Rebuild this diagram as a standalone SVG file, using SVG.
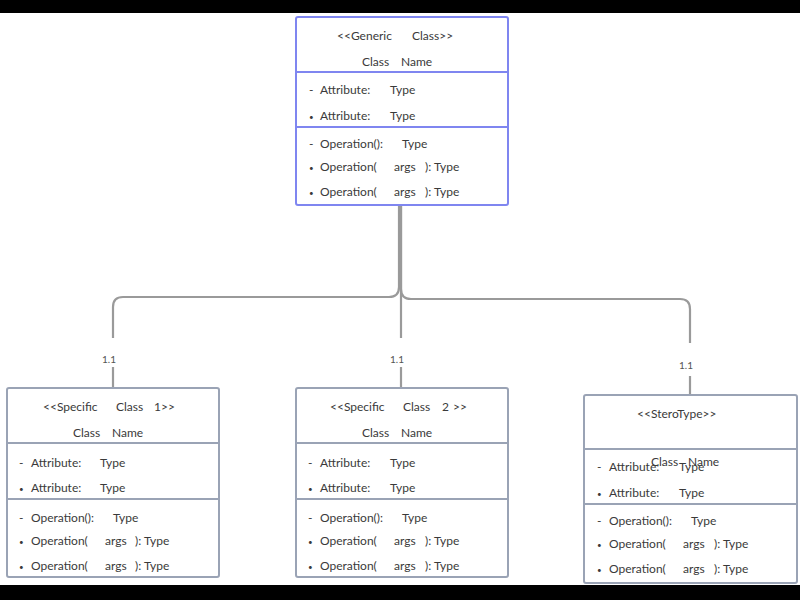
<svg xmlns="http://www.w3.org/2000/svg" width="800" height="600" viewBox="0 0 800 600">
<style>
  text { font-family: Lato, "Open Sans", "Liberation Sans", sans-serif; font-size: 12px; fill: #3a3a3a; }
  .lbl { font-size: 10px; fill: #555; }
  .b { font-size: 8px; }
  .gen { fill: #ffffff; stroke: #7f86f0; stroke-width: 2; }
  .gdiv { stroke: #7f86f0; stroke-width: 2; }
  .spec { fill: #ffffff; stroke: #9aa3b5; stroke-width: 2; }
  .sdiv { stroke: #9aa3b5; stroke-width: 2; }
  .conn { fill: none; stroke: #9a9a9a; stroke-width: 2.2; }
</style>
<rect x="0" y="0" width="800" height="600" fill="#ffffff"/>
<rect x="0" y="0" width="800" height="13" fill="#000000"/>
<rect x="0" y="585" width="800" height="15" fill="#000000"/>

<g id="connectors">
  <path class="conn" d="M399,206 V287 Q399,297 389,297 H123 Q113,297 113,307 V338"/>
  <path class="conn" d="M401,206 V338"/>
  <path class="conn" d="M401,206 V289 Q401,299 411,299 H680 Q690,299 690,309 V343"/>
  <path class="conn" d="M113,367 V388"/>
  <path class="conn" d="M401,367 V388"/>
  <path class="conn" d="M690,376 V395"/>
  <text class="lbl" x="102" y="363">1.1</text>
  <text class="lbl" x="390" y="363">1.1</text>
  <text class="lbl" x="679" y="369">1.1</text>
</g>

<g id="generic">
  <rect class="gen" x="296" y="17" width="212" height="188" rx="2"/>
  <line class="gdiv" x1="296" y1="72" x2="508" y2="72"/>
  <line class="gdiv" x1="296" y1="127" x2="508" y2="127"/>
  <text y="40"><tspan x="337">&lt;&lt;Generic</tspan><tspan x="412">Class&gt;&gt;</tspan></text>
  <text y="66"><tspan x="362">Class</tspan><tspan x="401">Name</tspan></text>
  <text y="94"><tspan x="309">-</tspan><tspan x="320">Attribute:</tspan><tspan x="390">Type</tspan></text>
  <text y="120"><tspan class="b" x="309">•</tspan><tspan x="320">Attribute:</tspan><tspan x="390">Type</tspan></text>
  <text y="148"><tspan x="309">-</tspan><tspan x="320">Operation():</tspan><tspan x="402">Type</tspan></text>
  <text y="171"><tspan class="b" x="309">•</tspan><tspan x="320">Operation(</tspan><tspan x="394">args</tspan><tspan x="425">): Type</tspan></text>
  <text y="196"><tspan class="b" x="309">•</tspan><tspan x="320">Operation(</tspan><tspan x="394">args</tspan><tspan x="425">): Type</tspan></text>
</g>

<g id="specific1">
  <rect class="spec" x="7" y="388" width="212" height="189" rx="2"/>
  <line class="sdiv" x1="7" y1="443" x2="219" y2="443"/>
  <line class="sdiv" x1="7" y1="499" x2="219" y2="499"/>
  <text y="411"><tspan x="43">&lt;&lt;Specific</tspan><tspan x="116">Class</tspan><tspan x="154">1&gt;&gt;</tspan></text>
  <text y="437"><tspan x="73">Class</tspan><tspan x="112">Name</tspan></text>
  <text y="467"><tspan x="19">-</tspan><tspan x="31">Attribute:</tspan><tspan x="100">Type</tspan></text>
  <text y="492"><tspan class="b" x="19">•</tspan><tspan x="31">Attribute:</tspan><tspan x="100">Type</tspan></text>
  <text y="522"><tspan x="19">-</tspan><tspan x="31">Operation():</tspan><tspan x="113">Type</tspan></text>
  <text y="545"><tspan class="b" x="19">•</tspan><tspan x="31">Operation(</tspan><tspan x="105">args</tspan><tspan x="135">): Type</tspan></text>
  <text y="570"><tspan class="b" x="19">•</tspan><tspan x="31">Operation(</tspan><tspan x="105">args</tspan><tspan x="135">): Type</tspan></text>
</g>

<g id="specific2">
  <rect class="spec" x="296" y="388" width="212" height="189" rx="2"/>
  <line class="sdiv" x1="296" y1="443" x2="508" y2="443"/>
  <line class="sdiv" x1="296" y1="499" x2="508" y2="499"/>
  <text y="411"><tspan x="330">&lt;&lt;Specific</tspan><tspan x="403">Class</tspan><tspan x="442">2</tspan><tspan x="453">&gt;&gt;</tspan></text>
  <text y="437"><tspan x="362">Class</tspan><tspan x="401">Name</tspan></text>
  <text y="467"><tspan x="308">-</tspan><tspan x="320">Attribute:</tspan><tspan x="390">Type</tspan></text>
  <text y="492"><tspan class="b" x="308">•</tspan><tspan x="320">Attribute:</tspan><tspan x="390">Type</tspan></text>
  <text y="522"><tspan x="308">-</tspan><tspan x="320">Operation():</tspan><tspan x="402">Type</tspan></text>
  <text y="545"><tspan class="b" x="308">•</tspan><tspan x="320">Operation(</tspan><tspan x="394">args</tspan><tspan x="425">): Type</tspan></text>
  <text y="570"><tspan class="b" x="308">•</tspan><tspan x="320">Operation(</tspan><tspan x="394">args</tspan><tspan x="425">): Type</tspan></text>
</g>

<g id="stereotype">
  <rect class="spec" x="584" y="395" width="213" height="188" rx="2"/>
  <line class="sdiv" x1="584" y1="449" x2="797" y2="449"/>
  <line class="sdiv" x1="584" y1="504" x2="797" y2="504"/>
  <text y="418" x="637">&lt;&lt;SteroType&gt;&gt;</text>
  <text y="466"><tspan x="651">Class</tspan><tspan x="688">Name</tspan></text>
  <text y="471"><tspan x="597">-</tspan><tspan x="609">Attribute:</tspan><tspan x="679">Type</tspan></text>
  <text y="497"><tspan class="b" x="597">•</tspan><tspan x="609">Attribute:</tspan><tspan x="679">Type</tspan></text>
  <text y="525"><tspan x="597">-</tspan><tspan x="609">Operation():</tspan><tspan x="691">Type</tspan></text>
  <text y="548"><tspan class="b" x="597">•</tspan><tspan x="609">Operation(</tspan><tspan x="683">args</tspan><tspan x="714">): Type</tspan></text>
  <text y="573"><tspan class="b" x="597">•</tspan><tspan x="609">Operation(</tspan><tspan x="683">args</tspan><tspan x="714">): Type</tspan></text>
</g>
</svg>
